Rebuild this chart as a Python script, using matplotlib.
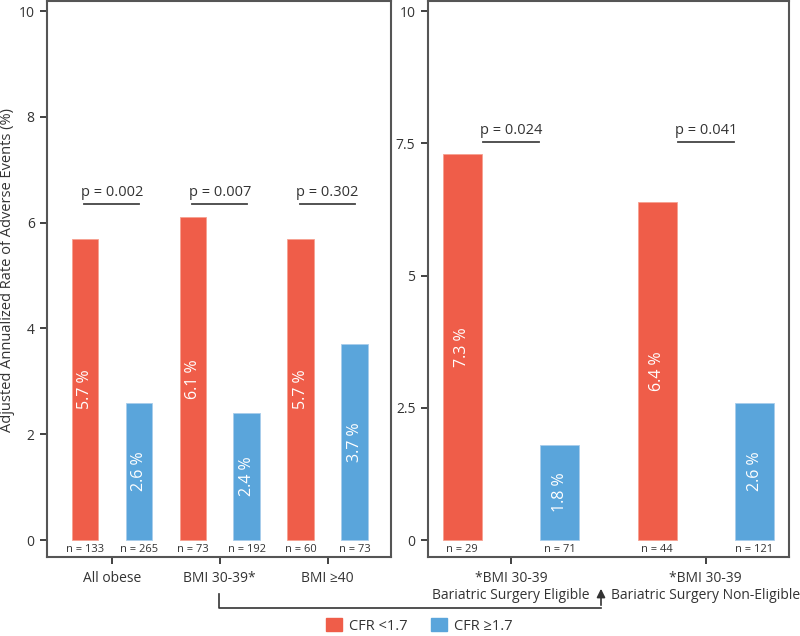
import numpy as np
import matplotlib
matplotlib.use("Agg")
import matplotlib.pyplot as plt
from matplotlib.patches import Patch

plt.rcParams['font.family'] = ['Open Sans', 'DejaVu Sans']

# left panel data
left_groups = ["All obese", "BMI 30-39*", "BMI \u226540"]
left_low = [5.7, 6.1, 5.7]
left_high = [2.6, 2.4, 3.7]
left_n_low = [133, 73, 60]
left_n_high = [265, 192, 73]
left_p = ["p = 0.002", "p = 0.007", "p = 0.302"]

# right panel data
right_groups = ["*BMI 30-39\nBariatric Surgery Eligible", "*BMI 30-39\nBariatric Surgery Non-Eligible"]
right_low = [7.3, 6.4]
right_high = [1.8, 2.6]
right_n_low = [29, 44]
right_n_high = [71, 121]
right_p = ["p = 0.024", "p = 0.041"]

RED = "#EF5D49"
BLUE = "#5AA5DB"
SPINE = "#555555"
TXT = "#333333"


def draw_panel(ax, groups, low, high, n_low, n_high, pvals, width, pline, pline_y, ptext_y, xlim, yticks):
    x = np.arange(len(groups))
    ax.bar(x - 0.25, low, width, color=RED, edgecolor="#F7A090", linewidth=0.6)
    ax.bar(x + 0.25, high, width, color=BLUE, edgecolor="#A8CDEB", linewidth=0.6)
    for i in range(len(groups)):
        for xx, v, n in [(x[i] - 0.25, low[i], n_low[i]), (x[i] + 0.25, high[i], n_high[i])]:
            ax.text(xx, v / 2, "{:.1f} %".format(v), rotation=90, ha="center", va="center",
                    color="white", fontsize=11.5)
            ax.text(xx, -0.17, "n = {}".format(n), ha="center", va="center", color=TXT, fontsize=8)
        ax.plot([x[i] - pline, x[i] + pline], [pline_y, pline_y], color="#444444", lw=1.3)
        ax.text(x[i], ptext_y, pvals[i], ha="center", va="center", color=TXT, fontsize=10.5)
    ax.set_xlim(*xlim)
    ax.set_ylim(-0.32, 10.19)
    ax.set_yticks(yticks)
    ax.set_yticklabels(["{:g}".format(t) for t in yticks])
    ax.set_xticks(x)
    ax.set_xticklabels(groups, linespacing=1.2)
    for s in ax.spines.values():
        s.set_color(SPINE)
        s.set_linewidth(1.5)
    ax.tick_params(colors=TXT, labelsize=10, length=5, width=1.3, pad=4)
    for t in ax.get_xticklabels():
        t.set_color(TXT)
    ax.tick_params(axis="x", pad=5)


fig = plt.figure(figsize=(8, 6.36), dpi=100)
ax1 = fig.add_axes([0.059, 0.1242, 0.43, 0.8742])
ax2 = fig.add_axes([0.535, 0.1242, 0.451, 0.8742])

draw_panel(ax1, left_groups, left_low, left_high, left_n_low, left_n_high, left_p,
           0.245, 0.255, 6.36, 6.57, (-0.6, 2.59), [0, 2, 4, 6, 8, 10])
draw_panel(ax2, right_groups, right_low, right_high, right_n_low, right_n_high, right_p,
           0.2, 0.144, 7.53, 7.74, (-0.426, 1.426), [0, 2.5, 5, 7.5, 10])

ax1.set_ylabel("Adjusted Annualized Rate of Adverse Events (%)", color=TXT, fontsize=10.5)
ax1.yaxis.set_label_coords(-0.095, 0.516)

# bracket arrow from BMI 30-39 group to the right panel
x0 = 219 / 800
x1 = 601 / 800
yb = 1 - 608 / 636
ytop0 = 1 - 594 / 636
ytop1 = 1 - 586 / 636
fig.add_artist(plt.Line2D([x0, x0, x1], [ytop0, yb, yb], color="#333333", lw=1.2,
                          transform=fig.transFigure))
fig.add_artist(matplotlib.patches.FancyArrowPatch((x1, yb), (x1, ytop1), transform=fig.transFigure,
                                                  arrowstyle="-|>,head_length=5,head_width=2.5",
                                                  color="#333333", lw=1.2, mutation_scale=1))

handles = [Patch(color=RED, label="CFR <1.7"), Patch(color=BLUE, label="CFR \u22651.7")]
fig.legend(handles=handles, loc="lower center", bbox_to_anchor=(0.524, -0.017), ncol=2, frameon=False,
           fontsize=10.5, handlelength=1.1, handleheight=1.0, columnspacing=1.6, handletextpad=0.5,
           labelcolor=TXT)

fig.savefig("out.png", dpi=100)
